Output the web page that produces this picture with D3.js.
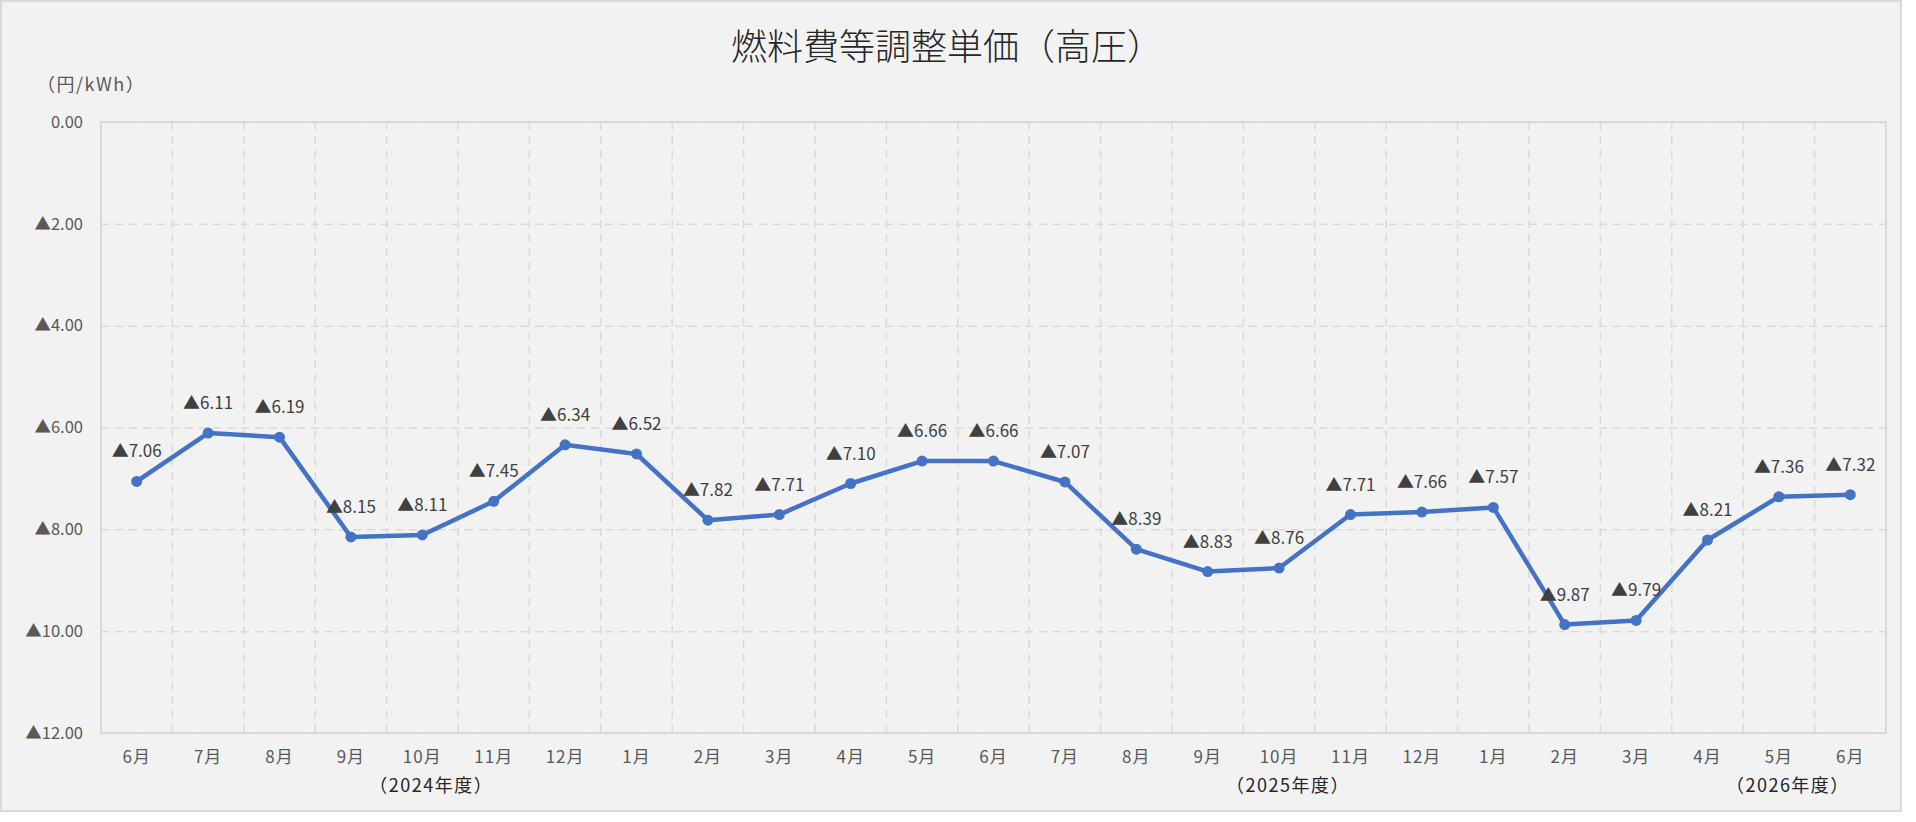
<!DOCTYPE html>
<html>
<head>
<meta charset="utf-8">
<script src="https://cdn.jsdelivr.net/npm/d3@7"></script>
<style>
  body { margin: 0; background: #ffffff; }
  text { font-family: "Noto Sans CJK JP", "Noto Sans", sans-serif; }
</style>
</head>
<body>
<script>
// 燃料費等調整単価（高圧） line chart

var width = 1916;
var height = 822;
var margin = { left: 101, right: 30, top: 122, bottom: 89 };

// months, 2024-06 .. 2026-06
var months = ["6月", "7月", "8月", "9月", "10月", "11月", "12月", "1月", "2月", "3月", "4月", "5月",
              "6月", "7月", "8月", "9月", "10月", "11月", "12月", "1月", "2月", "3月", "4月", "5月", "6月"];
// discount amounts (shown with ▲ = minus)
var values = [7.06, 6.11, 6.19, 8.15, 8.11, 7.45, 6.34, 6.52, 7.82, 7.71, 7.10, 6.66,
              6.66, 7.07, 8.39, 8.83, 8.76, 7.71, 7.66, 7.57, 9.87, 9.79, 8.21, 7.36, 7.32];
// fiscal year captions, placed under the given month index
var yearIndex = [4, 16, 23];
var yearLabels = ["（2024年度）", "（2025年度）", "（2026年度）"];
var yTicks = [0, 2, 4, 6, 8, 10, 12];

var plotW = 1886 - margin.left;
var plotH = 733 - margin.top;

var svg = d3.select("body").append("svg")
    .attr("width", width)
    .attr("height", height);

// chart frame
svg.append("rect")
  .attr("x", 1).attr("y", 1)
  .attr("width", 1900).attr("height", 810)
  .attr("fill", "#f2f2f2")
  .attr("stroke", "#d9d9d9")
  .attr("stroke-width", 2);

var xScale = d3.scaleBand()
  .domain(d3.range(months.length))
  .range([margin.left, margin.left + plotW]);

var yScale = d3.scaleLinear()
  .domain([0, 12])
  .range([margin.top, margin.top + plotH]);

function fmt(d) {
  return d === 0 ? "0.00" : "▲" + d.toFixed(2);
}

// horizontal grid
var yAxis = d3.axisLeft(yScale)
  .tickValues(yTicks)
  .tickSize(-plotW)
  .tickFormat(fmt)
  .tickPadding(18);

var gy = svg.append("g")
  .attr("transform", "translate(" + margin.left + ",0)")
  .call(yAxis);
gy.select(".domain").remove();
gy.selectAll("line")
  .attr("stroke", "#d9d9d9")
  .attr("stroke-width", 1.5)
  .attr("stroke-dasharray", "8,6");
gy.selectAll("text")
  .attr("fill", "#595959")
  .attr("font-size", "16.5px");

// vertical grid at category boundaries
svg.append("g")
  .selectAll("line")
  .data(d3.range(1, months.length))
  .enter()
  .append("line")
  .attr("x1", function(i) { return xScale(i); })
  .attr("x2", function(i) { return xScale(i); })
  .attr("y1", margin.top)
  .attr("y2", margin.top + plotH)
  .attr("stroke", "#d9d9d9")
  .attr("stroke-width", 1.5)
  .attr("stroke-dasharray", "8,6");

// plot border
svg.append("rect")
  .attr("x", margin.left).attr("y", margin.top)
  .attr("width", plotW).attr("height", plotH)
  .attr("fill", "none")
  .attr("stroke", "#d9d9d9")
  .attr("stroke-width", 2);

// x axis month labels
var xAxis = d3.axisBottom(xScale)
  .tickSize(0)
  .tickPadding(18)
  .tickFormat(function(i) { return months[i]; });

var gx = svg.append("g")
  .attr("transform", "translate(0," + (margin.top + plotH) + ")")
  .call(xAxis);
gx.select(".domain").remove();
gx.selectAll("text")
  .attr("fill", "#595959")
  .attr("font-size", "17px")
  .attr("letter-spacing", "1px");

// fiscal year captions
svg.selectAll(".year")
  .data(yearIndex)
  .enter()
  .append("text")
  .attr("class", "year")
  .attr("x", function(i, k) { return xScale(i) + xScale.bandwidth() / 2 + 9; })
  .attr("y", 792)
  .attr("text-anchor", "middle")
  .attr("font-size", "18px")
  .attr("letter-spacing", "1.5px")
  .attr("fill", "#262626")
  .text(function(i, k) { return yearLabels[k]; });

// line
var line = d3.line()
  .x(function(d, i) { return xScale(i) + xScale.bandwidth() / 2; })
  .y(function(d) { return yScale(d); });

svg.append("path")
  .datum(values)
  .attr("d", line)
  .attr("fill", "none")
  .attr("stroke", "#4472c4")
  .attr("stroke-width", 4.5)
  .attr("stroke-linejoin", "round");

svg.selectAll(".dot")
  .data(values)
  .enter()
  .append("circle")
  .attr("class", "dot")
  .attr("cx", function(d, i) { return xScale(i) + xScale.bandwidth() / 2; })
  .attr("cy", function(d) { return yScale(d); })
  .attr("r", 5.5)
  .attr("fill", "#4472c4");

// data labels
svg.selectAll(".lbl")
  .data(values)
  .enter()
  .append("text")
  .attr("class", "lbl")
  .attr("x", function(d, i) { return xScale(i) + xScale.bandwidth() / 2; })
  .attr("y", function(d) { return yScale(d) - 24; })
  .attr("text-anchor", "middle")
  .attr("font-size", "17px")
  .attr("fill", "#404040")
  .text(function(d) { return "▲" + d.toFixed(2); });

// unit
svg.append("text")
  .attr("x", 37)
  .attr("y", 91)
  .attr("font-size", "18px")
  .attr("letter-spacing", "1.5px")
  .attr("fill", "#595959")
  .text("（円/kWh）");

// title
svg.append("text")
  .attr("x", 947)
  .attr("y", 60)
  .attr("text-anchor", "middle")
  .attr("font-size", "36px")
  .attr("font-weight", 300)
  .attr("fill", "#262626")
  .text("燃料費等調整単価（高圧）");
</script>
</body>
</html>
